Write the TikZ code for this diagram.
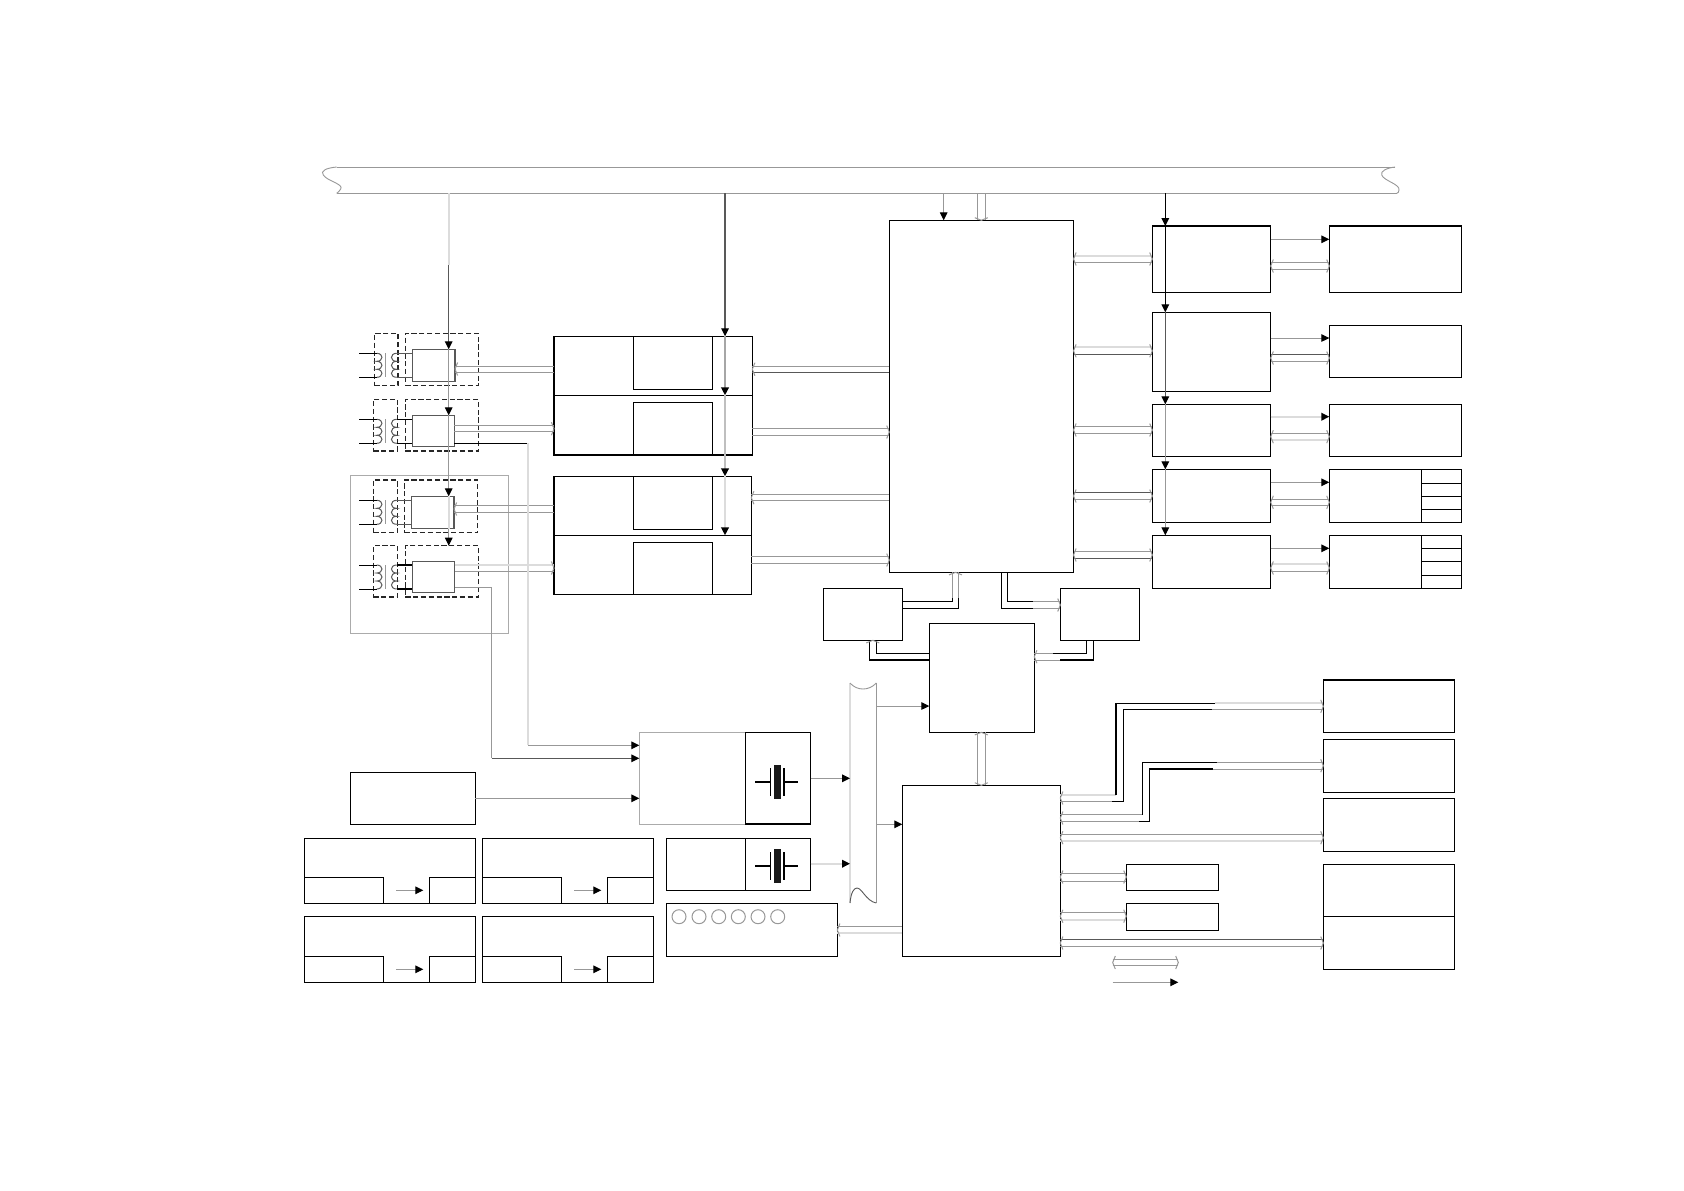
\documentclass[tikz,border=0pt]{standalone}
\usetikzlibrary{arrows.meta,calc}
\definecolor{lnc}{HTML}{989898}
\definecolor{ltc}{HTML}{DCDCDC}
\definecolor{dkc}{HTML}{585858}
\definecolor{grpc}{HTML}{ABABAB}
\tikzset{
  x=0.5pt,y=-0.5pt,
  box/.style={draw=black,line width=0.6pt,inner sep=0pt,outer sep=0pt,fill=white},
  pbox/.style={draw=dkc,line width=0.6pt,inner sep=0pt,outer sep=0pt,fill=white},
  grp/.style={draw=grpc,line width=0.5pt,inner sep=0pt,outer sep=0pt},
  dsh/.style={draw=black!85,line width=0.6pt,dash pattern=on 2.6pt off 1.3pt,inner sep=0pt,outer sep=0pt},
  ln/.style={draw=lnc,line width=0.5pt},
  lt/.style={draw=ltc,line width=0.85pt},
  dk/.style={draw=dkc,line width=0.5pt},
  blk/.style={draw=black,line width=0.6pt},
  mid/.style={draw=black!65,line width=0.6pt},
  hd/.style={-{Triangle[length=4pt,width=3.8pt,color=black]}},
  pics/opentip/.style={code={\draw[ln] (2.6,-6.5) .. controls (0.9,-3.5) .. (0,0) .. controls (0.9,3.5) .. (2.6,6.5);}},
}
\newcommand{\bx}[6][box]{%
  \pgfmathsetmacro\bxW{(#5-#3)*0.5}\pgfmathsetmacro\bxH{(#6-#4)*0.5}%
  \node[#1,minimum width=\bxW pt,minimum height=\bxH pt,anchor=north west] (#2) at (#3,#4) {};}
\newcommand{\hpr}[6]{\draw[#5] (#1 |- 0,#3) -- (#2 |- 0,#3); \draw[#6] (#1 |- 0,#4) -- (#2 |- 0,#4);}
\newcommand{\vpr}[6]{\draw[#5] (#3,0 |- #1) -- (#3,0 |- #2); \draw[#6] (#4,0 |- #1) -- (#4,0 |- #2);}
\newcommand{\tipL}[2]{\pic at (#1 |- 0,#2) {opentip};}
\newcommand{\tipR}[2]{\pic[rotate=180] at (#1 |- 0,#2) {opentip};}
\newcommand{\tipU}[2]{\pic[rotate=-90] at (#1,0 |- #2) {opentip};}
\newcommand{\tipD}[2]{\pic[rotate=90] at (#1,0 |- #2) {opentip};}
\newcommand{\coilset}[1]{%
  \begin{scope}[shift={(376.7,#1)}]
    \draw[dk] (0,0) .. controls (7,0) and (7,8) .. (0,8) .. controls (7,8) and (7,16) .. (0,16) .. controls (7,16) and (7,24) .. (0,24);
    \draw[dk] (20,0) .. controls (13,0) and (13,8) .. (20,8) .. controls (13,8) and (13,16) .. (20,16) .. controls (13,16) and (13,24) .. (20,24);
    \draw[ln] (9,0) -- (9,24);
    \draw[blk,line width=0.5pt] (-17.7,0) -- (0,0) (-17.7,24) -- (0,24);
  \end{scope}}
\newcommand{\xtal}[2]{%
  \begin{scope}[shift={(777.3,#1)}]
    \fill[black!90] (-3.4,-17) rectangle (3.4,17);
    \draw[blk] (-7,-14) -- (-7,14);
    \draw[blk,line width=0.9pt] (6.4,-14) -- (6.4,14);
    \draw[blk] (-22,0) -- (-7,0) (6.4,0) -- (20.7,0);
  \end{scope}}
\begin{document}
\begin{tikzpicture}
\useasboundingbox (0,0) rectangle (1684,1190);
\fill[white] (0,0) rectangle (1684,1190);

% backbone bus
\coordinate (busTop) at (0,167);
\coordinate (busBot) at (0,193.3);
\coordinate (txbus) at (448.7,193.3);
\coordinate (tbus) at (725,193.3);
\coordinate (cbus) at (1165.3,193.3);
\draw[ln] (336.7,167) -- (1395,167) (336.7,193.3) -- (1396.7,193.3);
\draw[ln,line width=0.45pt] (336.7,167) .. controls (326,168) and (320,171) .. (323.3,175) .. controls (327,181) and (344,184) .. (340.7,189) .. controls (340,191) and (338,192) .. (336.7,193.3);
\draw[ln,line width=0.45pt] (1395,167) .. controls (1387,168) and (1380,171) .. (1381.7,175) .. controls (1384,181) and (1400,184) .. (1399,190) .. controls (1399,192) and (1398,193) .. (1396.7,193.3);

% main column
\bx{Main}{889.3}{220.3}{1073.5}{572.3}
\bx{A}{1152.3}{226}{1270.7}{292.3}
\bx{B}{1152.3}{312.3}{1270.7}{391.7}
\bx{C}{1152.3}{404.3}{1270.7}{456.3}
\bx{D}{1152.3}{469.3}{1270.7}{522.3}
\bx{E}{1152.3}{535.3}{1270.7}{588.3}
\bx{Ra}{1329.3}{226}{1461.7}{292.3}
\bx{Rb}{1329.3}{325.3}{1461.7}{377.3}
\bx{Rc}{1329.3}{404.3}{1461.7}{456.3}
\bx{Rd}{1329.3}{469.3}{1461.7}{522.3}
\bx{Re}{1329.3}{535.3}{1461.7}{588.3}
\bx{Rd1}{1421.3}{469.3}{1461.7}{483.3}
\bx{Rd2}{1421.3}{483.3}{1461.7}{496.7}
\bx{Rd3}{1421.3}{496.7}{1461.7}{509.3}
\bx{Rd4}{1421.3}{509.3}{1461.7}{522.3}
\bx{Re1}{1421.3}{535.3}{1461.7}{548.3}
\bx{Re2}{1421.3}{548.3}{1461.7}{561.3}
\bx{Re3}{1421.3}{561.3}{1461.7}{575.3}
\bx{Re4}{1421.3}{575.3}{1461.7}{588.3}

% transceiver blocks
\bx{Ta}{554}{336.3}{752.3}{395.3}
\bx{Tb}{554}{395.3}{752.3}{455}
\bx{Tc}{554}{476.3}{751.3}{535.3}
\bx{Td}{554}{535.3}{751.3}{594.3}
\bx{Ia}{633.3}{336.3}{712.3}{389.3}
\bx{Ib}{633.3}{402.3}{712.3}{455}
\bx{Ic}{633.3}{476.3}{712.3}{529.3}
\bx{Id}{633.3}{542.3}{712.3}{594.3}

% front-end group
\bx[grp]{G}{350.3}{475.7}{508.3}{633.7}
\bx[dsh]{Xa}{374.3}{333.3}{398}{385.7}
\bx[dsh]{Da}{405.3}{333.3}{478.3}{385.7}
\bx[pbox]{Pa}{412.7}{349.3}{455}{381.7}
\bx[dsh]{Xb}{373.3}{399.3}{397.3}{451}
\bx[dsh]{Db}{405.3}{399.3}{478.3}{451}
\bx[pbox]{Pb}{412.3}{415.3}{454.3}{446.7}
\bx[dsh]{Xc}{373.3}{480}{397.3}{532.7}
\bx[dsh]{Dc}{404.3}{480}{477.7}{532.7}
\bx[pbox]{Pc}{411.7}{496.3}{454}{528.7}
\bx[dsh]{Xd}{373.3}{545.7}{397.7}{597}
\bx[dsh]{Dd}{405.3}{545.7}{478.3}{597}
\bx[pbox]{Pd}{412.3}{561.3}{454.7}{592.3}
\coilset{353.3}
\coilset{419.3}
\coilset{500.3}
\coilset{565}
\draw[dk] (396.7,353.3) -- (Pa.west |- 0,353.3) (396.7,377.3) -- (Pa.west |- 0,377.3);
\draw[blk] (396.7,419.3) -- (Pb.west |- 0,419.3) (396.7,443.3) -- (Pb.west |- 0,443.3);
\draw[dk] (396.7,500.3) -- (Pc.west |- 0,500.3) (396.7,524.3) -- (Pc.west |- 0,524.3);
\draw[blk] (396.7,565) -- (Pd.west |- 0,565) (396.7,589) -- (Pd.west |- 0,589);

% clock section and switch
\bx{Lb}{823.3}{588.3}{902.3}{640.3}
\bx{Rr}{1060.3}{588.3}{1139.3}{640.3}
\bx{Ctr}{929.3}{623.3}{1034.3}{732.3}
\bx{Ctl}{902.3}{785.3}{1060.3}{956.3}
\bx{Pp}{1323.3}{680}{1454.5}{732.3}
\bx{Pq}{1323.3}{739.3}{1454.5}{792.3}
\bx{Pr}{1323.3}{798.3}{1454.5}{851.3}
\bx{Ps}{1323.3}{864.3}{1454.5}{916.3}
\bx{Pt}{1323.3}{916.3}{1454.5}{969.3}
\bx{Sa}{1126.3}{864.3}{1218.7}{890.3}
\bx{Sb}{1126.3}{903.3}{1218.7}{930.3}

% oscillators
\bx[grp]{Ox}{639.3}{732.3}{745.3}{824}
\bx{Oc}{745.3}{732.3}{810.7}{824}
\bx{Oy}{666.3}{838.3}{745.3}{890.3}
\bx{Od}{745.3}{838.3}{810.7}{890.3}
\xtal{782}{}
\xtal{866}{}
\bx{Led}{666.3}{903.3}{837.3}{956.3}
\foreach \c/\n in {679/1,699/2,718.7/3,738.3/4,758/5,777.7/6}{
  \node[circle,draw=lnc,line width=0.5pt,minimum size=7pt,inner sep=0pt] (led\n) at (\c,916.7) {};
}
\bx{S}{350.3}{772.3}{475.3}{824.3}

% bottom-left cards
\bx{Ba}{304.3}{838.3}{475.3}{903.3}
\bx{Baa}{304.3}{877.3}{383.3}{903.3}
\bx{Bab}{429.3}{877.3}{475.3}{903.3}
\bx{Bb}{482.3}{838.3}{653.3}{903.3}
\bx{Bba}{482.3}{877.3}{561.7}{903.3}
\bx{Bbb}{607.3}{877.3}{653.3}{903.3}
\bx{Bc}{304.3}{916.3}{475.3}{982.3}
\bx{Bca}{304.3}{956.3}{383.3}{982.3}
\bx{Bcb}{429.3}{956.3}{475.3}{982.3}
\bx{Bd}{482.3}{916.3}{653.3}{982.3}
\bx{Bda}{482.3}{956.3}{561.7}{982.3}
\bx{Bdb}{607.3}{956.3}{653.3}{982.3}
\draw[ln,hd] (396,890.3) -- ($(Bab.west |- 0,890.3)+(-6,0)$);
\draw[ln,hd] (574,890.3) -- ($(Bbb.west |- 0,890.3)+(-6,0)$);
\draw[ln,hd] (396,969.3) -- ($(Bcb.west |- 0,969.3)+(-6,0)$);
\draw[ln,hd] (574,969.3) -- ($(Bdb.west |- 0,969.3)+(-6,0)$);

% vertical feeds from the bus
\draw[lt] (txbus) -- (txbus |- 0,265);
\draw[dk] (txbus |- 0,265) -- (txbus |- 0,300);
\draw[mid,hd] (txbus |- 0,300) -- (txbus |- Pa.north);
\draw[ln,hd] (txbus |- Pa.north) -- (txbus |- Pb.north);
\draw[ln,hd] (txbus |- Pb.north) -- (txbus |- Pc.north);
\draw[lt] (txbus |- Pc.north) -- (txbus |- Pc.south);
\draw[ln,hd] (txbus |- Pc.south) -- (txbus |- Dd.north);
\draw[mid,hd] (tbus) -- (tbus |- Ta.north);
\draw[draw=black!35,line width=1pt,hd] (tbus |- Ta.north) -- (tbus |- Tb.north);
\draw[draw=black!25,line width=1pt,hd] (tbus |- Tb.north) -- (tbus |- Tc.north);
\draw[lt,line width=1pt,hd] (tbus |- Tc.north) -- (tbus |- Td.north);
\draw[blk,hd] (cbus) -- (cbus |- A.north);
\draw[blk,hd] (cbus |- A.north) -- (cbus |- B.north);
\draw[dk,hd] (cbus |- B.north) -- (cbus |- C.north);
\draw[ln,hd] (cbus |- C.north) -- (cbus |- D.north);
\draw[ln,hd] (cbus |- D.north) -- (cbus |- E.north);
\draw[ln,hd] (943.7,0 |- busBot) -- (943.7,0 |- Main.north);
\vpr{busBot}{Main.north}{977.7}{985}{ln}{ln}
\tipD{981.3}{Main.north}

% main <-> line cards
\hpr{Main.east}{A.west}{255.7}{262.3}{lt}{ln}   \tipL{Main.east}{259}\tipR{A.west}{259}
\hpr{Main.east}{B.west}{347.3}{354.3}{lt}{dk}   \tipL{Main.east}{350.8}\tipR{B.west}{350.8}
\hpr{Main.east}{C.west}{426.7}{433.3}{ln}{ln}   \tipL{Main.east}{430}\tipR{C.west}{430}
\hpr{Main.east}{D.west}{492.7}{499.3}{dk}{ln}   \tipL{Main.east}{496}\tipR{D.west}{496}
\hpr{Main.east}{E.west}{551.7}{558.3}{ln}{dk}   \tipL{Main.east}{555}\tipR{E.west}{555}

% line cards -> right column
\draw[ln,hd] (A.east |- 0,239.3) -- (Ra.west |- 0,239.3);
\draw[ln,hd] (B.east |- 0,338) -- (Rb.west |- 0,338);
\draw[lt,hd] (C.east |- 0,416.7) -- (Rc.west |- 0,416.7);
\draw[ln,hd] (D.east |- 0,482.3) -- (Rd.west |- 0,482.3);
\draw[ln,hd] (E.east |- 0,548.3) -- (Re.west |- 0,548.3);
\hpr{A.east}{Ra.west}{262.7}{269.3}{ln}{ln}  \tipL{A.east}{266}\tipR{Ra.west}{266}
\hpr{B.east}{Rb.west}{354.3}{361.7}{dk}{ln}  \tipL{B.east}{358}\tipR{Rb.west}{358}
\hpr{C.east}{Rc.west}{433.3}{440}{ln}{lt}    \tipL{C.east}{436.7}\tipR{Rc.west}{436.7}
\hpr{D.east}{Rd.west}{499}{505.7}{ln}{ln}    \tipL{D.east}{502.3}\tipR{Rd.west}{502.3}
\hpr{E.east}{Re.west}{564.3}{571.7}{lt}{ln}  \tipL{E.east}{568}\tipR{Re.west}{568}

% transceiver blocks <-> main
\hpr{Ta.east}{Main.west}{366}{372.3}{ln}{dk}   \tipL{Ta.east}{369.2}
\hpr{Tb.east}{Main.west}{428.7}{435.3}{ln}{ln} \tipR{Main.west}{432}
\hpr{Tc.east}{Main.west}{494.7}{500.7}{ln}{ln} \tipL{Tc.east}{497.7}
\hpr{Td.east}{Main.west}{556.3}{563.7}{ln}{ln} \tipR{Main.west}{560}

% front end <-> transceiver blocks
\hpr{Pa.east}{Ta.west}{366}{372.3}{ln}{ln} \tipL{Pa.east}{369}
\hpr{Pb.east}{Tb.west}{425.7}{431.7}{ln}{ln} \tipR{Tb.west}{428.7}
\hpr{Pc.east}{Tc.west}{505.7}{512.3}{ln}{ln} \tipL{Pc.east}{509}
\hpr{Pd.east}{Td.west}{564.7}{571.3}{lt}{ln} \tipR{Td.west}{568}

% signal-detect lines to oscillator block
\draw[blk] (Pb.east |- 0,443.3) -- (528,443.3);
\draw[lt] (528,443.3) -- (528,745.3);
\draw[ln,hd] (528,745.3) -- (Ox.west |- 0,745.3);
\draw[ln] (Pd.east |- 0,587.3) -- (491.7,587.3) -- (491.7,758.3);
\draw[dk,hd] (491.7,758.3) -- (Ox.west |- 0,758.3);
\draw[ln,hd] (S.east |- 0,798.3) -- (Ox.west |- 0,798.3);

% clock ribbon
\coordinate (ribL) at (850,683);
\coordinate (ribR) at (876.3,683);
\draw[lt] (ribL) -- (850,903);
\draw[ln] (ribR) -- (876.3,903);
\draw[ln,line width=0.45pt] (ribL) .. controls (857,691) and (869,691) .. (ribR);
\draw[dk,line width=0.45pt] (850,903) .. controls (851,892) and (854,888) .. (857,888) .. controls (862,888) and (866,901) .. (876.3,903);
\draw[ln,hd] (Oc.east |- 0,778.3) -- (ribL |- 0,778.3);
\draw[lt,hd] (Od.east |- 0,863.7) -- (ribL |- 0,863.7);
\draw[ln,hd] (ribR |- 0,706) -- (Ctr.west |- 0,706);
\draw[ln,hd] (ribR |- 0,824.3) -- (Ctl.west |- 0,824.3);

% controller <-> LED box
\hpr{Led.east}{Ctl.west}{926.7}{933}{ln}{lt} \tipL{Led.east}{930}

% left small box -> main
\draw[blk] (Lb.east |- 0,601.3) -- (952.7,601.3) -- (952.7,598);
\draw[ln] (952.7,598) -- (952.7,0 |- Main.south);
\draw[blk] (Lb.east |- 0,608.3) -- (958.3,608.3) -- (958.3,598);
\draw[ln] (958.3,598) -- (958.3,0 |- Main.south);
\tipU{955.5}{Main.south}
% main -> right small box
\draw[blk] (1001.7,0 |- Main.south) -- (1001.7,608.3) -- (1033,608.3);
\draw[ln] (1033,608.3) -- (Rr.west |- 0,608.3);
\draw[blk] (1007.3,0 |- Main.south) -- (1007.3,601.3) -- (1033,601.3);
\draw[ln] (1033,601.3) -- (Rr.west |- 0,601.3);
\tipR{Rr.west}{605}
% switch -> left small box
\draw[blk] (Ctr.west |- 0,653.3) -- (876.3,653.3) -- (876.3,0 |- Lb.south);
\draw[blk] (Ctr.west |- 0,660) -- (869.3,660) -- (869.3,0 |- Lb.south);
\tipU{872.8}{Lb.south}
% right small box -> switch
\draw[blk] (1086.3,0 |- Rr.south) -- (1086.3,653.3) -- (1053,653.3);
\draw[ln] (1053,653.3) -- (Ctr.east |- 0,653.3);
\draw[blk] (1093.3,0 |- Rr.south) -- (1093.3,660) -- (1060,660);
\draw[ln] (1060,660) -- (Ctr.east |- 0,660);
\tipL{Ctr.east}{656.7}
% switch <-> controller
\vpr{Ctr.south}{Ctl.north}{977.7}{985}{ln}{ln}
\tipU{981.3}{Ctr.south}\tipD{981.3}{Ctl.north}

% controller elbows
\draw[lt] (Ctl.east |- 0,795) -- (1116,795);
\draw[blk] (1116,795) -- (1116,703.3) -- (1215,703.3);
\draw[lt] (1215,703.3) -- (Pp.west |- 0,703.3);
\draw[ln] (Ctl.east |- 0,801.3) -- (1112,801.3);
\draw[blk] (1112,801.3) -- (1123.3,801.3) -- (1123.3,709.3) -- (1211.7,709.3);
\draw[ln] (1211.7,709.3) -- (Pp.west |- 0,709.3);
\tipL{Ctl.east}{798}\tipR{Pp.west}{706.3}
\draw[ln] (Ctl.east |- 0,814.7) -- (1142.3,814.7);
\draw[blk] (1142.3,814.7) -- (1142.3,762.3) -- (1216.7,762.3);
\draw[ln] (1216.7,762.3) -- (Pq.west |- 0,762.3);
\draw[ln] (Ctl.east |- 0,821.3) -- (1139,821.3);
\draw[blk] (1139,821.3) -- (1149.3,821.3) -- (1149.3,769) -- (1212.7,769);
\draw[ln] (1212.7,769) -- (Pq.west |- 0,769);
\tipL{Ctl.east}{818}\tipR{Pq.west}{765.7}
\hpr{Ctl.east}{Pr.west}{834.3}{841}{ln}{lt}  \tipL{Ctl.east}{837.7}\tipR{Pr.west}{837.7}
\hpr{Ctl.east}{Sa.west}{873}{881}{ln}{ln}    \tipL{Ctl.east}{877}\tipR{Sa.west}{877}
\hpr{Ctl.east}{Sb.west}{912.7}{919.7}{ln}{lt}\tipL{Ctl.east}{916.2}\tipR{Sb.west}{916.2}
\hpr{Ctl.east}{Pt.west}{939.3}{946.7}{dk}{ln}\tipL{Ctl.east}{943}\tipR{Pt.west}{943}

% legend
\coordinate (legA) at (1112.7,962.5);
\coordinate (legB) at (1178.3,962.5);
\hpr{legA}{legB}{959.3}{965.7}{ln}{ln} \tipL{legA}{962.5}\tipR{legB}{962.5}
\draw[ln,hd] (legA |- 0,982.3) -- (legB |- 0,982.3);
\end{tikzpicture}
\end{document}
